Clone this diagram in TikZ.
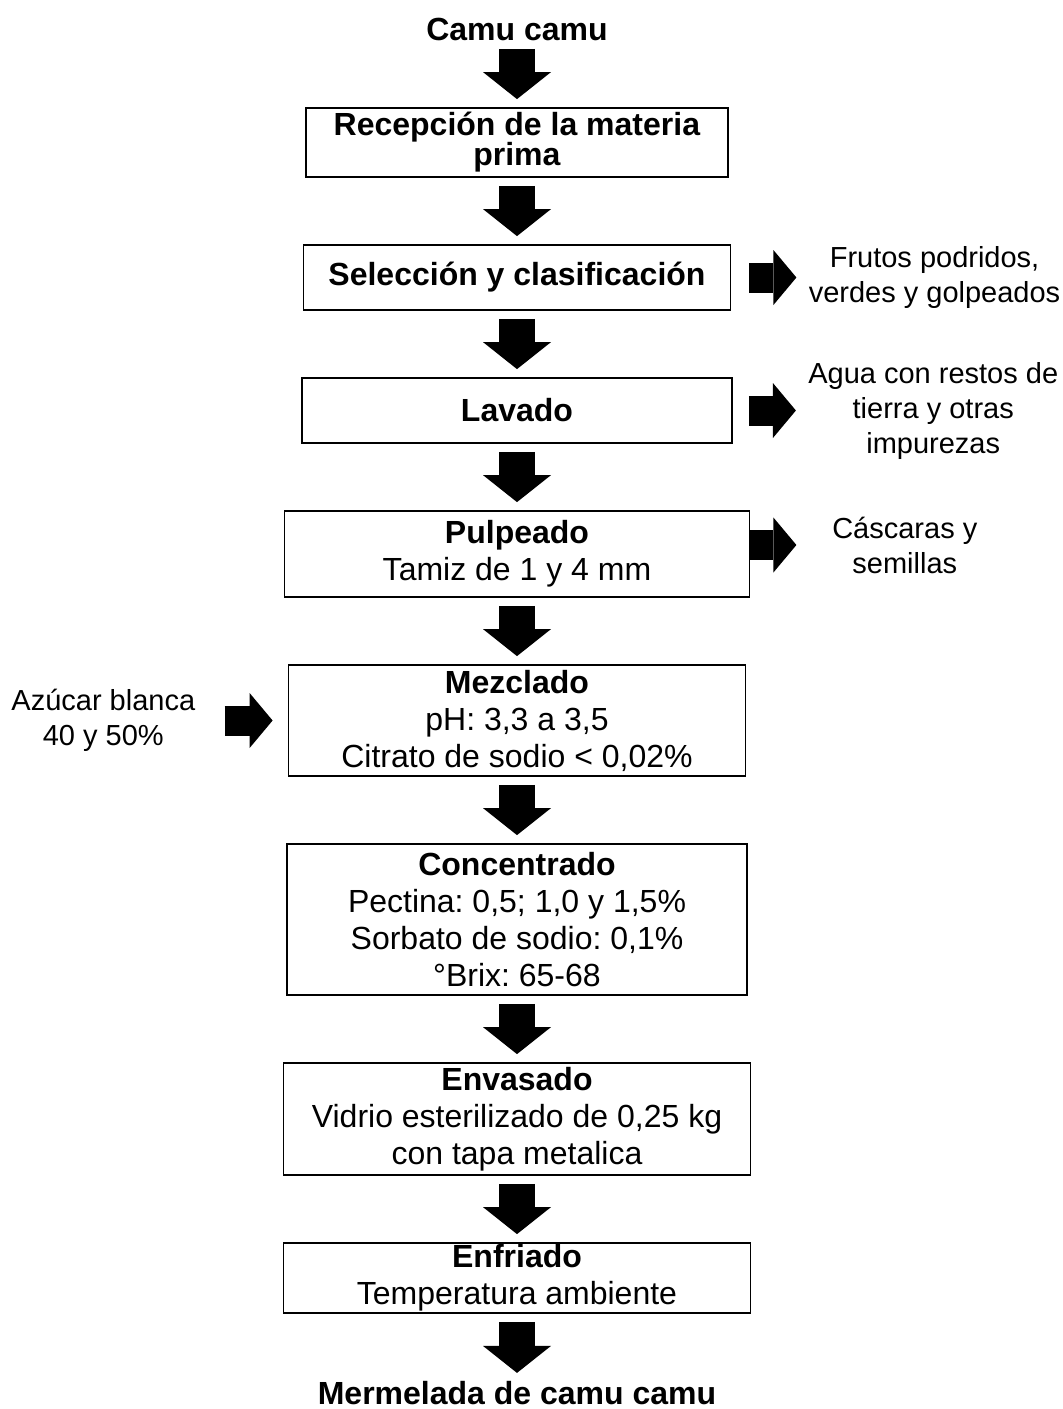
\documentclass[tikz,border=0pt]{standalone}
\usepackage{fontspec}
\setmainfont{Liberation Sans}
\usetikzlibrary{arrows.meta,positioning}
\frenchspacing

\begin{document}
\begin{tikzpicture}[node distance=33.1pt,font=\fontsize{16}{18.5}\selectfont,
	caja/.style={draw,line width=0.9pt,align=center,inner sep=0pt},
	titulo/.style={font=\fontsize{16}{18.5}\selectfont\bfseries,inner sep=0pt},
	lado/.style={align=center,inner sep=0pt,font=\fontsize{14.5}{17.5}\selectfont},
	bajada/.style={line width=18pt,shorten <=4pt,shorten >=4pt,-{Triangle[width=34pt,length=13.5pt,line width=0pt]}},
	salida/.style={line width=15pt,-{Triangle[width=27.5pt,length=11.5pt,line width=0pt]}}]
					\useasboundingbox (0,0) rectangle (531pt,-704.5pt);

					\node[caja, minimum width=211pt, minimum height=34.5pt] (recep) at (258.5pt,-71.25pt) {\textbf{Recepción de la materia}\\[-3.5pt]\textbf{prima}};
					\node[titulo] (camu) [above=of recep] {Camu camu};
					\node[caja, minimum width=213.5pt, minimum height=32.5pt] (selec) [below=of recep] {\textbf{Selección y clasificación}};
					\node[caja, minimum width=215pt, minimum height=32.5pt] (lavado) [below=of selec] {\textbf{Lavado}};
					\node[caja, minimum width=232.5pt, minimum height=43pt] (pulpeado) [below=of lavado] {\textbf{Pulpeado}\\Tamiz de 1 y 4 mm};
					\node[caja, minimum width=228.5pt, minimum height=55.5pt] (mezclado) [below=of pulpeado] {\textbf{Mezclado}\\pH: 3,3 a 3,5\\Citrato de sodio < 0,02\%};
					\node[caja, minimum width=230pt, minimum height=75.5pt] (concentrado) [below=of mezclado] {\textbf{Concentrado}\\Pectina: 0,5; 1,0 y 1,5\%\\Sorbato de sodio: 0,1\%\\°Brix: 65-68};
					\node[caja, minimum width=233.5pt, minimum height=56pt] (envasado) [below=of concentrado] {\textbf{Envasado}\\Vidrio esterilizado de 0,25 kg\\con tapa metalica};
					\node[caja, minimum width=233.5pt, minimum height=35pt] (enfriado) [below=of envasado] {\textbf{Enfriado}\\Temperatura ambiente};
					\node[titulo] (mermelada) [below=33.5pt of enfriado] {Mermelada de camu camu};

					\node[lado] (frutos) [right=38.5pt of selec] {Frutos podridos,\\verdes y golpeados};
					\node[lado] (agua) [right=37.5pt of lavado] {Agua con restos de\\tierra y otras\\impurezas};
					\node[lado] (cascaras) [right=40.75pt of pulpeado, yshift=4.5pt] {Cáscaras y\\semillas};
					\node[lado] (azucar) [left=46pt of mezclado] {Azúcar blanca\\40 y 50\%};

					\path[bajada]
					(camu) edge (recep)
					(recep) edge (selec)
					(selec) edge (lavado)
					(lavado) edge (pulpeado)
					(pulpeado) edge (mezclado)
					(mezclado) edge (concentrado)
					(concentrado) edge (envasado)
					(envasado) edge (enfriado)
					(enfriado) edge (mermelada);

					\path[salida]
					(selec) edge [shorten <=9pt, shorten >=6pt] (frutos)
					(lavado) edge [shorten <=8pt, shorten >=6pt] (agua)
					(pulpeado.east |- cascaras.west) edge [shorten >=17.75pt] (cascaras)
					(azucar) edge [shorten <=14.5pt, shorten >=7.5pt] (mezclado);
				\end{tikzpicture}
\end{document}
